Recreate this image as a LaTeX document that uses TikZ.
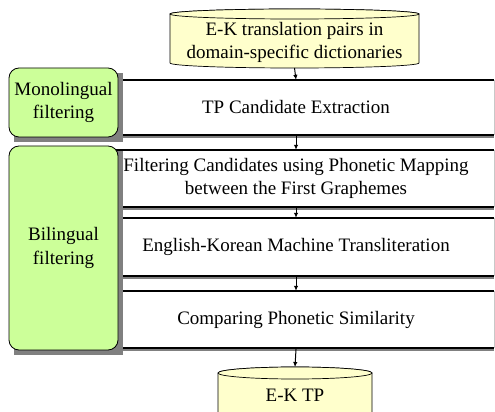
\documentclass[tikz,border=0pt]{standalone}
\usepackage{fontspec}
\setmainfont{Liberation Serif}
\usetikzlibrary{arrows.meta}
\definecolor{padfill}{HTML}{FFFFCC}
\definecolor{stagefill}{HTML}{CCFF99}
\definecolor{shadegray}{HTML}{808080}
\definecolor{sidegray}{HTML}{C8C8C8}
\pgfdeclarelayer{bg}
\pgfdeclarelayer{mid}
\pgfsetlayers{bg,mid,main}
\begin{document}
\begin{tikzpicture}[x=1pt,y=1pt,
  txt/.style={font=\fontsize{19}{22.5}\selectfont, align=center, inner sep=0pt},
  stepbox/.style={txt, minimum width=396pt, minimum height=#1, fill=white},
  stage/.style={txt, font=\fontsize{19}{23.5}\selectfont, minimum width=109pt, minimum height=#1,
    rounded corners=10pt, fill=stagefill, draw=black, line width=0.8pt},
  cyl/.style={fill=padfill, draw=black, line width=0.7pt},
  flow/.style={line width=1pt, -{Latex[length=5pt,width=4.5pt]}},
  rule/.style={line width=1.8pt},
]
\useasboundingbox (0,0) rectangle (495,412);

% source store: cylinder
\filldraw[cyl] (170,398) -- (170,349) arc[start angle=180, end angle=360, x radius=124.5, y radius=5]
  -- (419,398) arc[start angle=0, end angle=180, x radius=124.5, y radius=5] -- cycle;
\draw[cyl] (294.5,398) ellipse[x radius=124.5, y radius=5];
\node[txt] (src) at (294.5,369.5) {E-K translation pairs in\\domain-specific dictionaries};
\coordinate (srcbot) at (294.5,344);

% result store: cylinder running off the bottom
\filldraw[cyl] (218,39) -- (218,-10) -- (372,-10) -- (372,39)
  arc[start angle=0, end angle=180, x radius=77, y radius=6];
\draw[cyl] (295,39) ellipse[x radius=77, y radius=6];
\node[txt] (dst) at (295,17) {E-K TP};
\coordinate (dsttop) at (295,45);

% processing steps
\begin{pgfonlayer}{bg}
\node[stepbox=55pt] (b1) at (296,304.5) {TP Candidate Extraction};
\node[stepbox=57pt] (b2) at (296,233.5) {Filtering Candidates using Phonetic Mapping\\between the First Graphemes};
\node[stepbox=58pt] (b3) at (296,165) {English-Korean Machine Transliteration};
\node[stepbox=57pt] (b4) at (296,92.5) {Comparing Phonetic Similarity};
\foreach \b in {b1,b2,b3,b4}{
  \draw[shadegray, line width=1.4pt] ([yshift=-2pt]\b.south west) -- ([yshift=-2pt]\b.south east);
  \draw[sidegray, line width=0.6pt] (\b.south west) -- (\b.north west) (\b.south east) -- (\b.north east);
  \draw[rule] (\b.north west) -- (\b.north east) (\b.south west) -- (\b.south east);
}
\end{pgfonlayer}

% stage labels with square drop shadows
\node[stage=69pt] (mono) at (63.5,309.5) {Monolingual\\filtering};
\node[stage=204pt] (bil) at (63.5,164) {Bilingual\\filtering};
\begin{pgfonlayer}{mid}
\foreach \s in {mono,bil}{
  \fill[shadegray] ([shift={(5pt,-5pt)}]\s.south west) rectangle ([shift={(5pt,-5pt)}]\s.north east);
}
\end{pgfonlayer}

% flow
\draw[flow] (srcbot) -- (b1.north);
\draw[flow] ([yshift=-1pt]b1.south) -- (b2.north);
\draw[flow] ([yshift=-1pt]b2.south) -- (b3.north);
\draw[flow] ([yshift=-1pt]b3.south) -- (b4.north);
\draw[flow] ([yshift=-1pt]b4.south) -- (dsttop);
\end{tikzpicture}
\end{document}
